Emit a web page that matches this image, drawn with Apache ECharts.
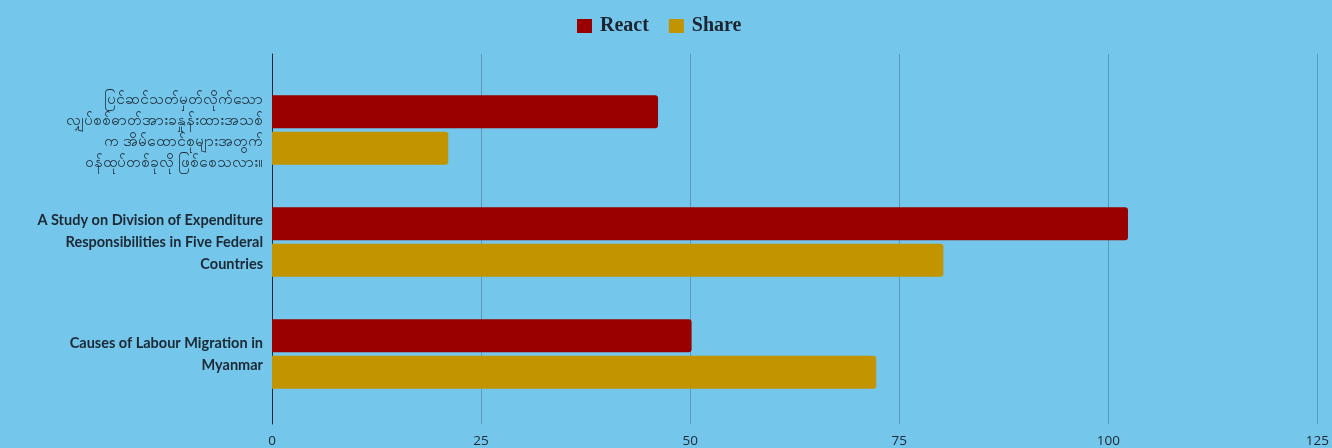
<!DOCTYPE html>
<html>
<head>
<meta charset="utf-8">
<script src="https://cdn.jsdelivr.net/npm/echarts@6/dist/echarts.min.js"></script>
<style>
  html, body { margin: 0; padding: 0; background: #74C6EB; }
  #chart { width: 1332px; height: 448px; }
</style>
</head>
<body>
<div id="chart"></div>
<script>
// Publications, top to bottom
const categories = [
  'ပြင်ဆင်သတ်မှတ်လိုက်သော\nလျှပ်စစ်ဓာတ်အားခနှုန်းထားအသစ်\nက အိမ်ထောင်စုများအတွက်\nဝန်ထုပ်တစ်ခုလို ဖြစ်စေသလား။',
  'A Study on Division of Expenditure\nResponsibilities in Five Federal\nCountries',
  'Causes of Labour Migration in\nMyanmar'
];
const seriesNames = ['React', 'Share'];
const reactValues = [46, 102, 50];
const shareValues = [21, 80, 72];
const xTicks = { min: 0, max: 125, interval: 25 };

const textColor = '#1c2833';
const myanmarScript = /[\u1000-\u109F]/;
const chart = echarts.init(document.getElementById('chart'), null, { renderer: 'canvas' });

chart.setOption({
  backgroundColor: '#74C6EB',
  animation: false,
  color: ['#990000', '#C29400'],
  legend: {
    data: seriesNames,
    top: 11,
    left: 572,
    icon: 'rect',
    itemWidth: 15,
    itemHeight: 14,
    itemGap: 20,
    textStyle: {
      fontFamily: 'Liberation Serif',
      fontSize: 20,
      fontWeight: 'bold',
      color: '#1b2530',
      padding: [0, 0, 0, 3]
    }
  },
  grid: [
    // frame grid: split lines, value labels and the vertical axis line
    { left: 272, right: 11, top: 54, bottom: 19 },
    // bar grid, inset vertically inside the frame
    { left: 272, right: 11, top: 74, bottom: 38 }
  ],
  xAxis: [
    {
      gridIndex: 0,
      type: 'value',
      min: xTicks.min, max: xTicks.max, interval: xTicks.interval,
      axisLine: { show: false },
      axisTick: { show: false },
      splitLine: { show: true, lineStyle: { color: '#5a99b6', width: 1 } },
      axisLabel: {
        margin: 10,
        fontFamily: 'Open Sans',
        fontSize: 13.5,
        color: textColor
      }
    },
    {
      gridIndex: 1,
      type: 'value',
      min: xTicks.min, max: xTicks.max, interval: xTicks.interval,
      show: false
    }
  ],
  yAxis: [
    {
      gridIndex: 0,
      type: 'value',
      axisLine: { show: true, lineStyle: { color: '#1c2830', width: 1 } },
      axisTick: { show: false },
      axisLabel: { show: false },
      splitLine: { show: false }
    },
    {
      gridIndex: 1,
      type: 'category',
      inverse: true,
      data: categories,
      axisLine: { show: false },
      axisTick: { show: false },
      splitLine: { show: false },
      axisLabel: {
        margin: 9,
        align: 'right',
        fontFamily: 'Lato',
        fontSize: 14.5,
        fontWeight: 'bold',
        lineHeight: 22,
        color: textColor,
        formatter: function (value) {
          return myanmarScript.test(value) ? '{my|' + value + '}' : value;
        },
        rich: {
          my: {
            fontSize: 15.5,
            fontWeight: 'normal',
            lineHeight: 21,
            color: textColor,
            align: 'right'
          }
        }
      }
    }
  ],
  series: [
    {
      name: seriesNames[0],
      type: 'bar',
      xAxisIndex: 1,
      yAxisIndex: 1,
      data: reactValues,
      barWidth: 33,
      barGap: '10%',
      itemStyle: { borderRadius: [0, 3, 3, 0] }
    },
    {
      name: seriesNames[1],
      type: 'bar',
      xAxisIndex: 1,
      yAxisIndex: 1,
      data: shareValues,
      barWidth: 33,
      barGap: '10%',
      itemStyle: { borderRadius: [0, 3, 3, 0] }
    }
  ]
});
</script>
</body>
</html>
